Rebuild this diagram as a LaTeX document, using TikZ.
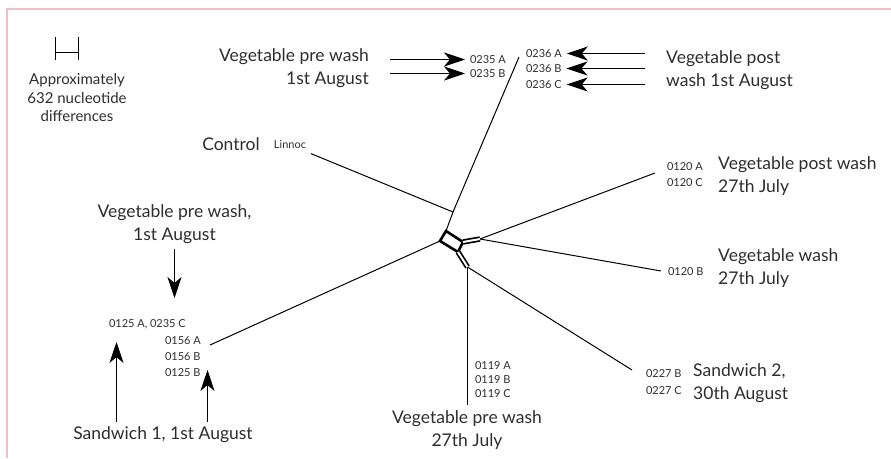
\documentclass[tikz,border=0pt]{standalone}
\usepackage{fontspec}
\setmainfont{Lato}
\usetikzlibrary{arrows.meta}
\definecolor{txtgray}{RGB}{45,45,45}
\definecolor{framepink}{RGB}{242,190,195}
\newcommand\lblfont{\fontsize{17.5}{22.5}\selectfont}
\newcommand\idfont{\fontsize{11}{14}\selectfont}
\newcommand\notefont{\fontsize{15}{18.5}\selectfont}
\tikzset{
  lbl/.style={font=\lblfont, text=txtgray, inner sep=0pt},
  idtag/.style={font=\idfont, text=txtgray, inner sep=1pt, outer sep=4pt},
  arr/.style={line width=0.9pt, arrows={-Stealth[length=21pt, width=14pt, inset=6pt]}},
  branch/.style={line width=1pt},
  reticle/.style={line width=2.6pt, line join=miter},
  arm/.style={line width=1.7pt, double=white, double distance=2pt},
}

\begin{document}
\begin{tikzpicture}[x=1pt,y=-1pt]
        \useasboundingbox (0,0) rectangle (891,458);
        %%Frame
        \draw[framepink, line width=2pt] (7,458) -- (7,9) -- (891,9);
        %%Scale bar
        \draw[line width=0.8pt] (55.5,37) -- (55.5,60) (55.5,52.5) -- (78.5,52.5) (78.5,37) -- (78.5,60);
        \node[font=\notefont, text=txtgray, align=center] (scale) at (77,98)
            {Approximately\\632 nucleotide\\differences};
        %%Network
        \coordinate (ta) at (446,231);
        \coordinate (ra) at (463,242);
        \coordinate (rb) at (458,252);
        \coordinate (la) at (440,241);
        \coordinate (re) at (480,239);
        \coordinate (de) at (467.5,267);
        \coordinate (tj) at (453,212);
        \coordinate (e235) at (519,57);
        \coordinate (e120a) at (655,173);
        \coordinate (e120b) at (661,271);
        \coordinate (e227) at (632,370);
        \coordinate (e119) at (467.5,405);
        \coordinate (e156) at (210,345);
        \draw[reticle] (ta) -- (ra) -- (rb) -- (la) -- cycle;
        \draw[arm] (ra) -- (re);
        \draw[arm] (rb) -- (de);
        \draw[branch] (ta) -- (tj) -- (e235);
        \draw[branch] (la) -- (e156);
        \draw[branch] (re) -- (e120a);
        \draw[branch] (re) -- (e120b);
        \draw[branch] (de) -- (e119);
        \draw[branch] (de) -- (e227);
        %%Control
        \node[lbl] (control) at (231,144) {Control};
        \node[idtag] (linnoc) at (290,145) {Linnoc};
        \draw[branch] (linnoc) -- (tj);
        %%Vegetable pre wash, 1st August (top)
        \node[lbl, anchor=east, align=right] (vpre1) at (369,68) {Vegetable pre wash\\1st August};
        \node[idtag, anchor=west] (n0235a) at (465,59.5) {0235 A};
        \node[idtag, anchor=west] (n0235b) at (465,73.5) {0235 B};
        \coordinate (t0235a) at (390,59.5);
        \coordinate (t0235b) at (390,73.5);
        \draw[arr] (t0235a) -- (n0235a.west);
        \draw[arr] (t0235b) -- (n0235b.west);
        %%Vegetable post wash 1st August
        \node[idtag, anchor=west] (n0236a) at (521,53.5) {0236 A};
        \node[idtag, anchor=west] (n0236b) at (521,68.5) {0236 B};
        \node[idtag, anchor=west] (n0236c) at (521,84.5) {0236 C};
        \coordinate (t0236a) at (645,53.5);
        \coordinate (t0236b) at (645,68.5);
        \coordinate (t0236c) at (645,84.5);
        \draw[arr] (t0236a) -- (n0236a.east);
        \draw[arr] (t0236b) -- (n0236b.east);
        \draw[arr] (t0236c) -- (n0236c.east);
        \node[lbl, anchor=west, align=left] (vpost1) at (666,70) {Vegetable post\\wash 1st August};
        %%Left group
        \node[lbl, align=center] (vpre2) at (174.5,224) {Vegetable pre wash,\\1st August};
        \coordinate (d0125) at (174.5,298);
        \draw[arr] (vpre2.south) ++(0,6) coordinate (s0125) -- (d0125);
        \node[idtag, anchor=west] (n0125a) at (104,324) {0125 A, 0235 C};
        \node[idtag, anchor=west] (n0156a) at (160,341) {0156 A};
        \node[idtag, anchor=west] (n0156b) at (160,357) {0156 B};
        \node[idtag, anchor=west] (n0125b) at (160,373) {0125 B};
        \node[lbl] (sand1) at (163,435) {Sandwich 1, 1st August};
        \coordinate (u1) at (116.5,422);
        \coordinate (u1tip) at (116.5,342);
        \coordinate (u2) at (207.5,422);
        \coordinate (u2tip) at (207.5,370);
        \draw[arr] (u1) -- (u1tip);
        \draw[arr] (u2) -- (u2tip);
        %%Bottom
        \node[idtag, anchor=west] (n0119a) at (470,366) {0119 A};
        \node[idtag, anchor=west] (n0119b) at (470,380) {0119 B};
        \node[idtag, anchor=west] (n0119c) at (470,394) {0119 C};
        \node[lbl, align=center] (vpre3) at (467,430) {Vegetable pre wash\\27th July};
        \node[idtag, anchor=west] (n0227b) at (641,374) {0227 B};
        \node[idtag, anchor=west] (n0227c) at (641,391) {0227 C};
        \node[lbl, anchor=west, align=left] (sand2) at (693,383) {Sandwich 2,\\30th August};
        %%Right
        \node[idtag, anchor=west] (n0120a) at (662,167) {0120 A};
        \node[idtag, anchor=west] (n0120c) at (662,183) {0120 C};
        \node[lbl, anchor=west, align=left] (vpost2) at (718,176) {Vegetable post wash\\27th July};
        \node[idtag, anchor=west] (n0120b) at (663,272) {0120 B};
        \node[lbl, anchor=west, align=left] (vwash) at (718,268) {Vegetable wash\\27th July};
\end{tikzpicture}
\end{document}
